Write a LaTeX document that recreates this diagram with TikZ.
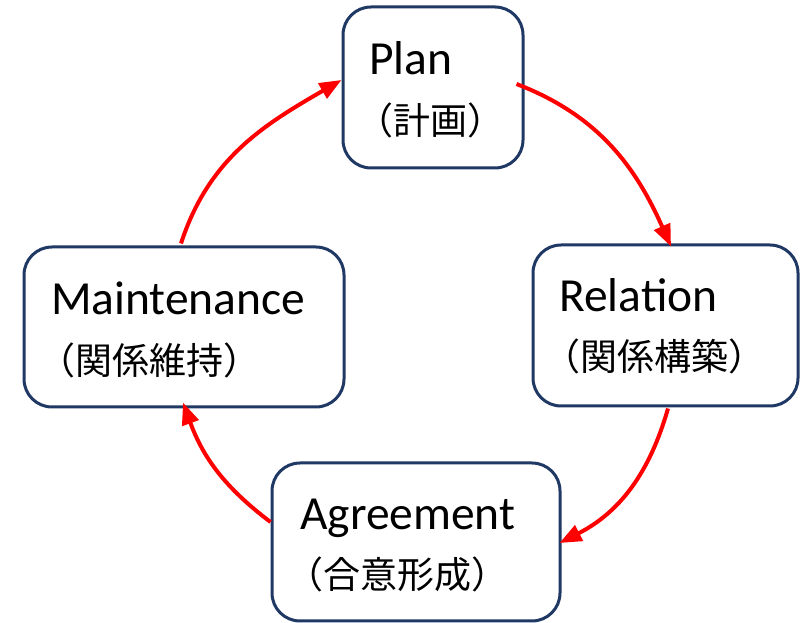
\documentclass[tikz,border=0pt]{standalone}
\usepackage{fontspec}
\setmainfont{Carlito}
\newfontfamily\cjk{Noto Sans CJK JP}
\usetikzlibrary{arrows.meta}
\definecolor{boxline}{RGB}{31,56,100}
\definecolor{arrowred}{RGB}{255,0,0}
\begin{document}
\begin{tikzpicture}[x=1pt,y=1pt,
  stagebox/.style={draw=boxline, line width=3pt, rounded corners=28pt, fill=white, inner sep=0pt},
  entxt/.style={anchor=base west, inner sep=0pt, font=\fontsize{47.5}{56}\selectfont},
  jptxt/.style={anchor=base west, inner sep=0pt, font=\cjk\fontsize{37}{44}\selectfont},
  cyc/.style={draw=arrowred, line width=4pt, -{Triangle[length=22pt,width=17pt]}}]
\useasboundingbox (0,0) rectangle (805,623);
% boxes
\node[stagebox, minimum width=180pt, minimum height=161pt] (plan) at (433,535.5) {};
\node[stagebox, minimum width=265pt, minimum height=161pt] (relation) at (665.5,297.5) {};
\node[stagebox, minimum width=320pt, minimum height=160pt] (maint) at (184,296) {};
\node[stagebox, minimum width=288pt, minimum height=158pt] (agree) at (416,81) {};
% texts
\node[entxt] (planen) at (369,548) {Plan};
\node[jptxt] (planjp) at (356,488.5) {（計画）};
\node[entxt] (relen) at (559,311) {Relation};
\node[jptxt] (reljp) at (543,252.5) {（関係構築）};
\node[entxt] (mainten) at (51,308) {Maintenance};
\node[jptxt] (maintjp) at (38,248.5) {（関係維持）};
\node[entxt] (agreeen) at (300,93) {Agreement};
\node[jptxt] (agreejp) at (286,34) {（合意形成）};
% cycle arrows
\draw[cyc] ([xshift=-8pt,yshift=3.5pt]plan.east) to[out=-21,in=114] ([xshift=5.5pt,yshift=-3pt]relation.north);
\draw[cyc] ([xshift=2.5pt,yshift=-1pt]relation.south) to[out=-106,in=27] ([xshift=-2pt,yshift=-1pt]agree.east);
\draw[cyc] ([yshift=20pt]agree.west) to[out=143,in=-70] ([xshift=-1pt,yshift=6pt]maint.south);
\draw[cyc] ([xshift=-3pt,yshift=2pt]maint.north) to[out=72,in=210] ([yshift=7.5pt]plan.west);
\end{tikzpicture}
\end{document}
